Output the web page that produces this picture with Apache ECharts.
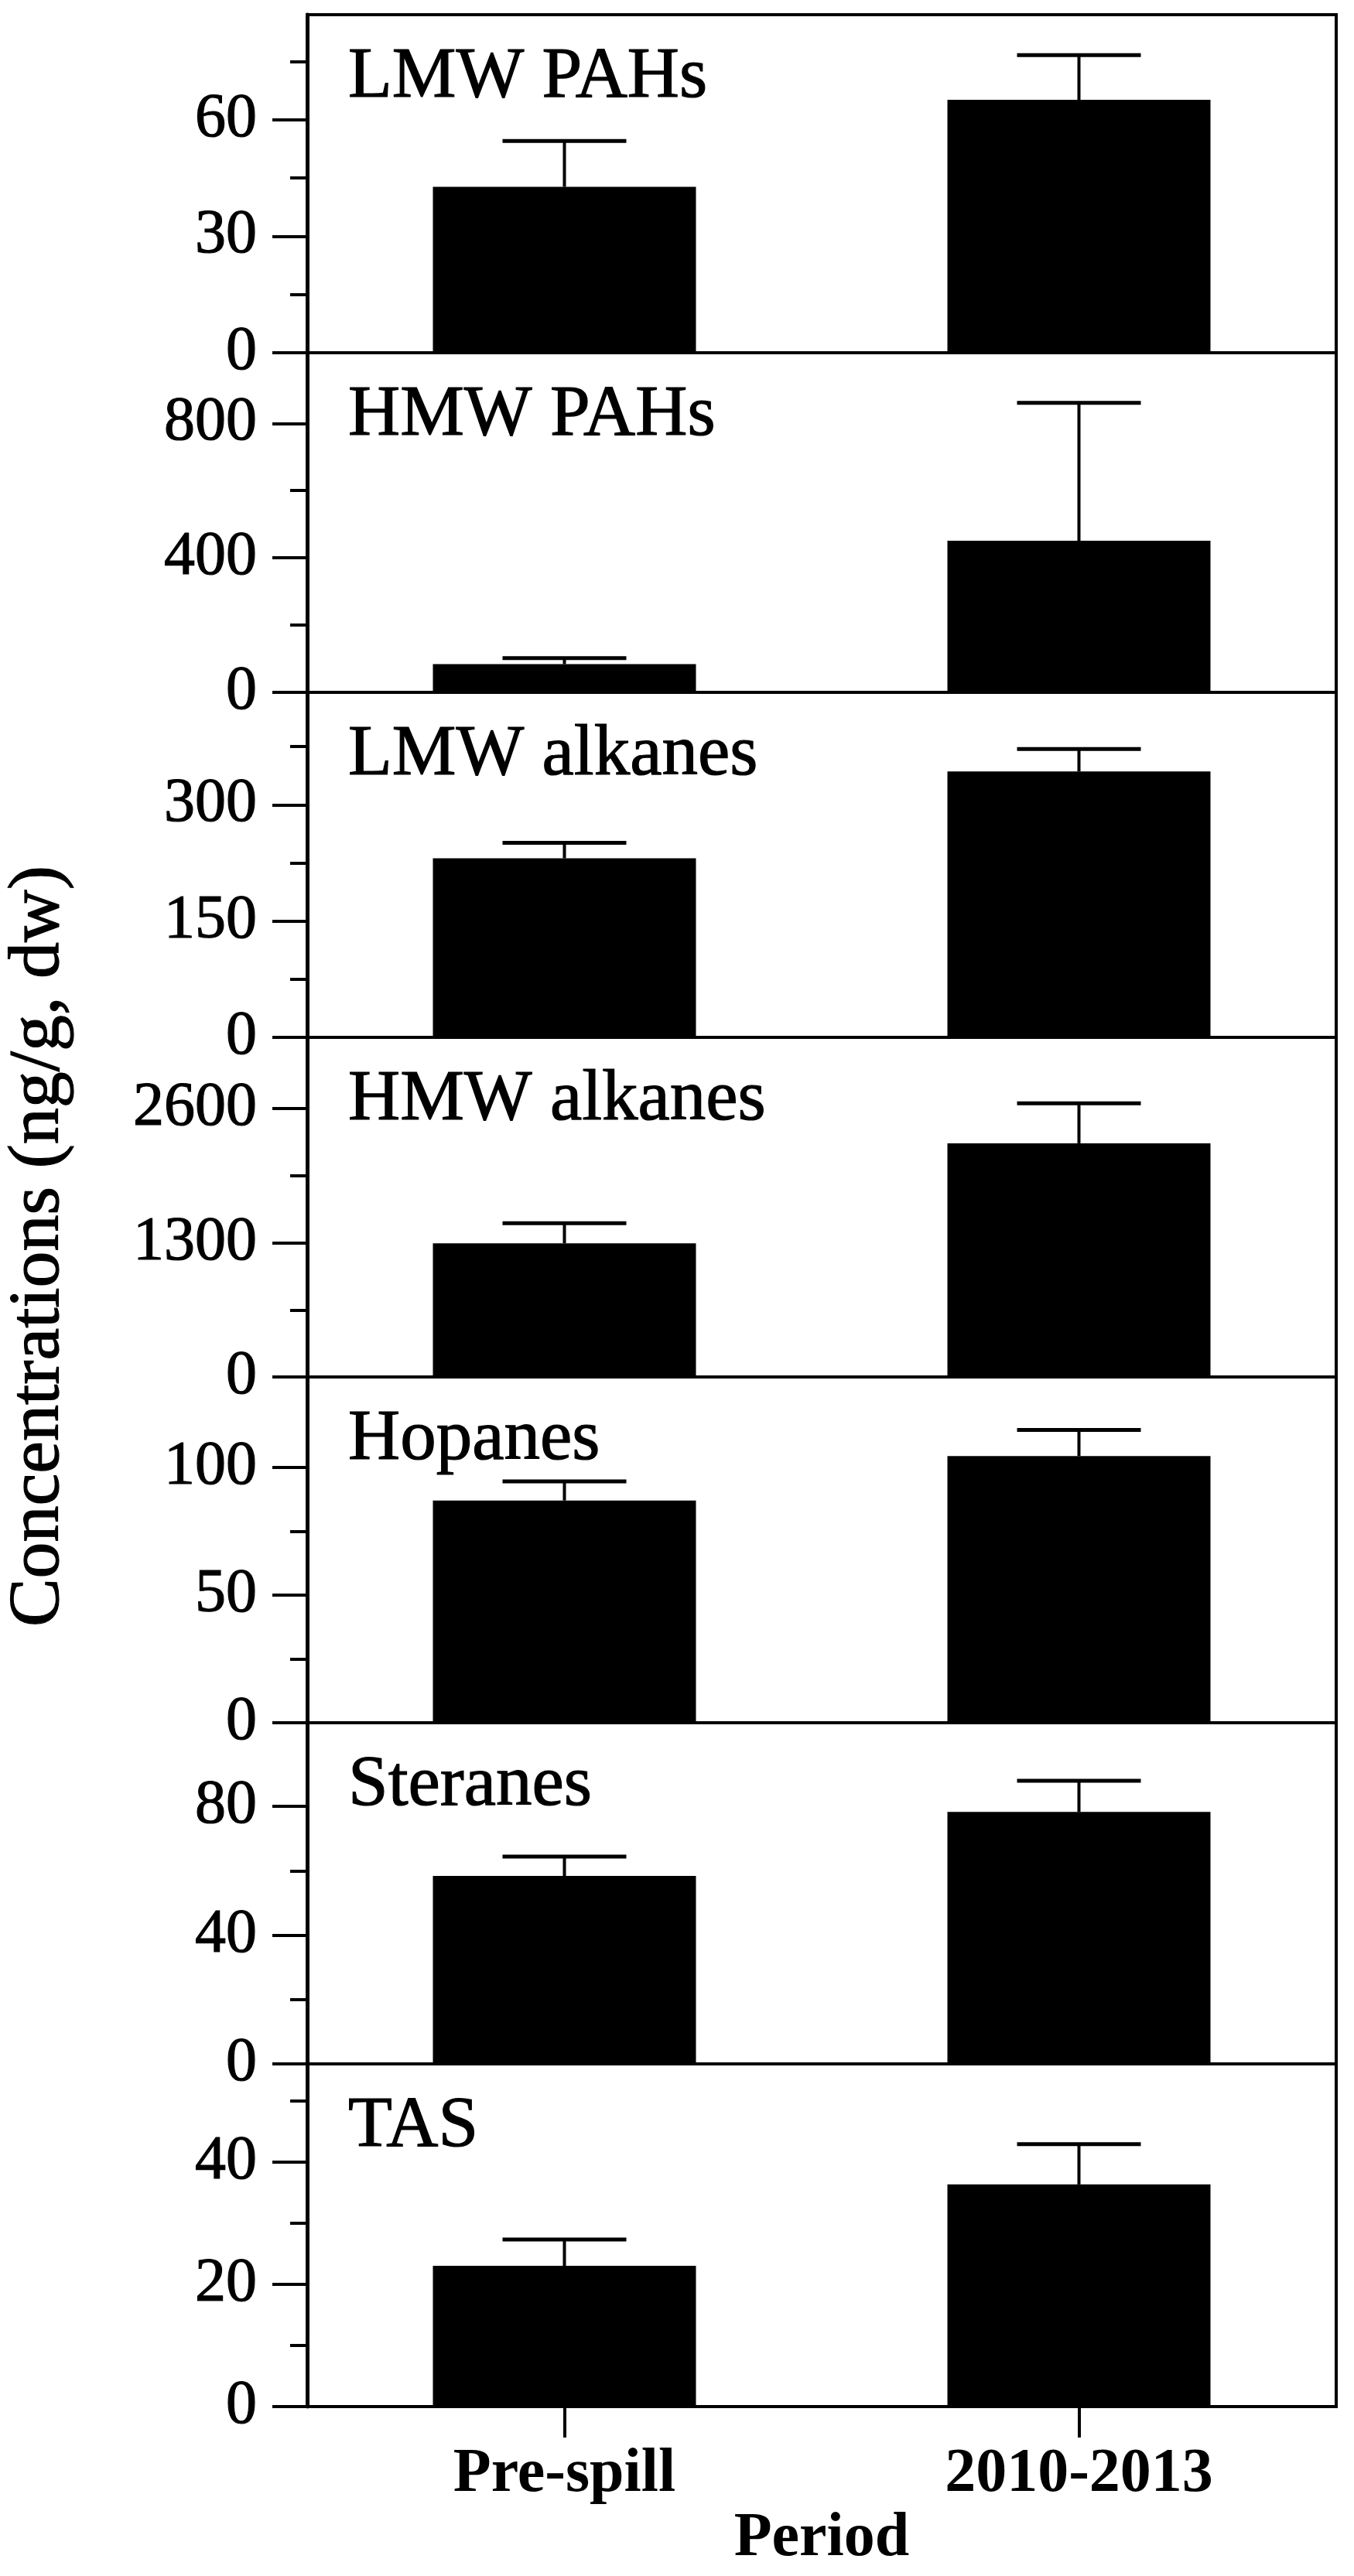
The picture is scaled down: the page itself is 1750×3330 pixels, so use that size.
<!DOCTYPE html>
<html>
<head>
<meta charset="utf-8">
<title>Concentrations by period</title>
<script src="https://cdn.jsdelivr.net/npm/echarts@6/dist/echarts.min.js"></script>
<style>
html, body { margin: 0; padding: 0; background: #fff; }
#chart { width: 1750px; height: 3330px; }
</style>
</head>
<body>
<div id="chart"></div>
<script>
var periods = ["Pre-spill", "2010-2013"];
var panelNames = ["LMW PAHs", "HMW PAHs", "LMW alkanes", "HMW alkanes", "Hopanes", "Steranes", "TAS"];

// mean and upper error (SD) per panel
var preSpillMean = [42.7, 84, 231, 1295, 87.1, 58.4, 23.0];
var preSpillErr  = [11.8, 18, 20, 194, 7.5, 6.0, 4.3];
var recentMean   = [65.1, 451, 343, 2264, 104.5, 78.3, 36.3];
var recentErr    = [11.5, 410, 29, 387, 10.2, 9.7, 6.6];

var axisMax = [87, 1010, 445, 3290, 135.5, 106, 56];
var majorTicks = [[0, 30, 60], [0, 400, 800], [0, 150, 300], [0, 1300, 2600], [0, 50, 100], [0, 40, 80], [0, 20, 40]];
var minorTicks = [[15, 45, 75], [200, 600], [75, 225, 375], [650, 1950], [25, 75], [20, 60], [10, 30, 50]];

// panel edges in px, top of first panel down to bottom of last
var panelEdges = [19, 456, 895, 1341, 1780, 2227, 2668, 3111];
var serif = "Liberation Serif, Times New Roman, serif";

function renderErr(params, api) {
	var x = api.value(0);
	var low = api.coord([x, api.value(1)]);
	var high = api.coord([x, api.value(2)]);
	var half = 80;
	return {
		type: "group",
		children: [
			{ type: "line", shape: { x1: low[0], y1: low[1], x2: high[0], y2: high[1] }, style: { stroke: "#000", lineWidth: 4 } },
			{ type: "line", shape: { x1: high[0] - half, y1: high[1], x2: high[0] + half, y2: high[1] }, style: { stroke: "#000", lineWidth: 5 } }
		]
	};
}

var grids = [], xAxes = [], yAxes = [], series = [], graphics = [];
for (var i = 0; i < panelNames.length; i++) {
	var isLast = (i == panelNames.length - 1);
	grids.push({
		left: 397, right: 23,
		top: panelEdges[i],
		height: panelEdges[i + 1] - panelEdges[i],
		show: true, borderColor: "#000", borderWidth: 4
	});
	xAxes.push({
		type: "category", gridIndex: i, data: periods,
		axisLine: { show: true, lineStyle: { color: "#000", width: 4 } },
		axisTick: { show: isLast, alignWithLabel: true, length: 40, lineStyle: { color: "#000", width: 4 } },
		axisLabel: { show: isLast, margin: 48, color: "#000", fontFamily: serif, fontSize: 80, fontWeight: "bold" },
		name: isLast ? "Period" : "",
		nameLocation: "middle", nameGap: 131,
		nameTextStyle: { color: "#000", fontFamily: serif, fontSize: 80, fontWeight: "bold" },
		splitLine: { show: false }
	});
	// major ticks + labels
	yAxes.push({
		type: "value", gridIndex: i, position: "left", min: 0, max: axisMax[i],
		axisLine: { show: true, lineStyle: { color: "#000", width: 5 } },
		axisTick: { show: true, length: 45, customValues: majorTicks[i], lineStyle: { color: "#000", width: 4 } },
		axisLabel: {
			customValues: majorTicks[i], margin: 65, color: "#000", fontFamily: serif, fontSize: 80,
			textBorderColor: "#000", textBorderWidth: 1.2,
			formatter: function (v) { return String(v); }
		},
		splitLine: { show: false }
	});
	// minor ticks only
	yAxes.push({
		type: "value", gridIndex: i, position: "left", min: 0, max: axisMax[i],
		axisLine: { show: false },
		axisTick: { show: true, length: 22, customValues: minorTicks[i], lineStyle: { color: "#000", width: 4 } },
		axisLabel: { show: false },
		splitLine: { show: false }
	});
	series.push({
		type: "bar", xAxisIndex: i, yAxisIndex: 2 * i,
		barWidth: 340,
		itemStyle: { color: "#000" },
		data: [preSpillMean[i], recentMean[i]]
	});
	series.push({
		type: "custom", xAxisIndex: i, yAxisIndex: 2 * i,
		renderItem: renderErr,
		encode: { x: 0, y: [1, 2] },
		data: [
			[0, preSpillMean[i], preSpillMean[i] + preSpillErr[i]],
			[1, recentMean[i], recentMean[i] + recentErr[i]]
		],
		z: 3
	});
	graphics.push({
		type: "text", x: 450, y: panelEdges[i] + 82,
		style: {
			text: panelNames[i], fill: "#000", fontFamily: serif, fontSize: 93,
			stroke: "#000", lineWidth: 1.2,
			textAlign: "left", textVerticalAlign: "middle"
		}
	});
}

graphics.push({
	type: "text", x: 50, y: 1611, rotation: Math.PI / 2,
	style: {
		text: "Concentrations (ng/g, dw)", fill: "#000", fontFamily: serif, fontSize: 94,
		stroke: "#000", lineWidth: 1.2,
		textAlign: "center", textVerticalAlign: "middle"
	}
});

var myChart = echarts.init(document.getElementById("chart"));
myChart.setOption({
	animation: false,
	backgroundColor: "#fff",
	grid: grids,
	xAxis: xAxes,
	yAxis: yAxes,
	series: series,
	graphic: graphics
});
</script>
</body>
</html>
